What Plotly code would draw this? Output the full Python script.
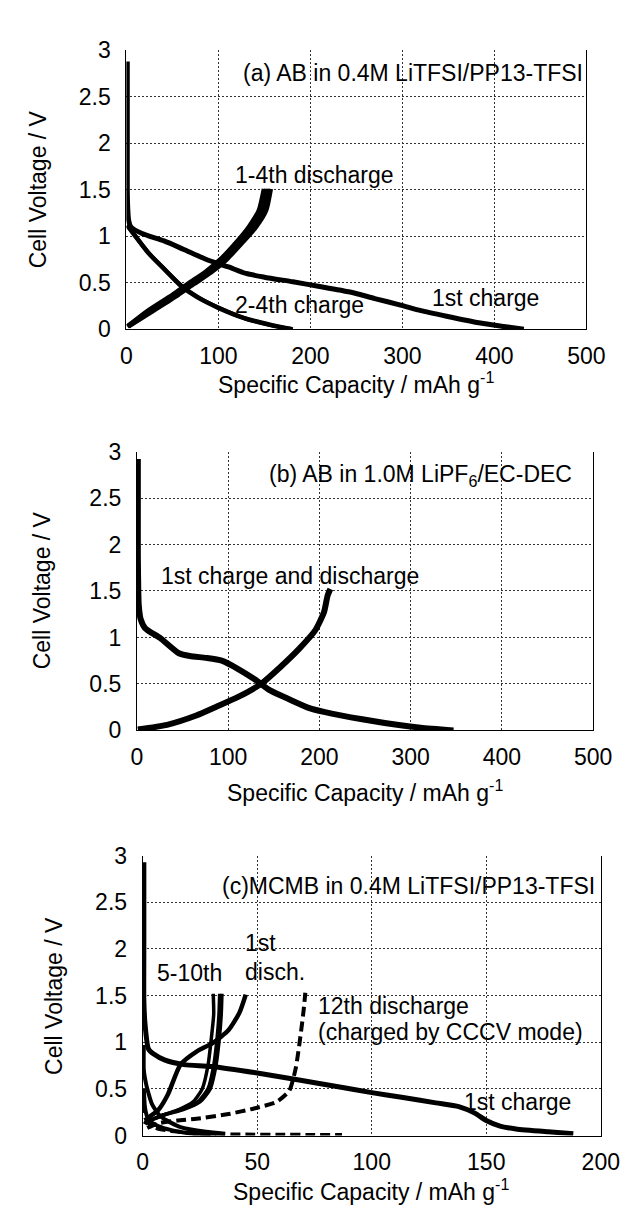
import plotly.graph_objects as go

W, H = 631, 1209
FONT = "Liberation Sans"
FS = 23

# ---------------- data ----------------
# Panel (a): AB in 0.4M LiTFSI/PP13-TFSI
a_ch1_x = [1, 1, 1, 1.5, 2.5, 5, 17, 41, 62, 87, 111, 130, 150, 181, 210, 243, 270, 298, 320, 348, 383, 410, 432]
a_ch1_v = [2.88, 2.0, 1.5, 1.3, 1.17, 1.1, 1.03, 0.95, 0.86, 0.75, 0.67, 0.6, 0.56, 0.51, 0.46, 0.4, 0.33, 0.26, 0.2, 0.14, 0.07, 0.03, 0.0]

a_ch24_x = [1, 24, 41, 59, 76, 100, 128, 156, 180]
a_ch24_v = [1.12, 0.82, 0.65, 0.47, 0.35, 0.23, 0.12, 0.05, 0.0]
a_ch24b_x = [2, 26, 43, 61, 79, 103, 131, 158, 181]
a_ch24b_v = [1.1, 0.8, 0.63, 0.46, 0.34, 0.22, 0.11, 0.04, 0.0]

a_dis_v = [0.03, 0.19, 0.37, 0.49, 0.61, 0.75, 0.93, 1.1, 1.28, 1.51]
a_dis1_x = [1, 22, 50, 67, 85, 102, 119, 133, 144, 149.5]
a_dis2_x = [1.5, 24, 52, 69.5, 87.5, 104.5, 121.5, 136, 147, 152]
a_dis3_x = [2, 26, 54.5, 72, 90, 107, 124, 138.5, 149.5, 154.5]
a_dis4_x = [2.5, 28, 56.5, 74, 92, 109, 126, 141, 152, 157]

# Panel (b): AB in 1.0M LiPF6/EC-DEC
b_ch_x = [1, 1, 1, 1.5, 2, 4, 9, 26, 46, 58, 76, 93, 111, 129, 146, 168, 189, 205, 247, 289, 311, 347]
b_ch_v = [2.92, 2.3, 1.87, 1.5, 1.35, 1.2, 1.1, 0.99, 0.83, 0.8, 0.78, 0.75, 0.66, 0.55, 0.43, 0.33, 0.24, 0.2, 0.12, 0.055, 0.03, 0.0]
b_dis_x = [1, 33, 65, 86, 111, 136, 157, 178, 195, 205, 209, 212]
b_dis_v = [0.01, 0.06, 0.16, 0.25, 0.36, 0.5, 0.68, 0.88, 1.07, 1.27, 1.45, 1.52]

# Panel (c): MCMB in 0.4M LiTFSI/PP13-TFSI
c_ch1_x = [0.5, 0.5, 0.5, 1, 2.5, 5, 9.5, 18, 30, 50, 67, 86, 100, 113, 128, 138, 145, 150, 156, 163, 177, 188]
c_ch1_v = [2.93, 2.0, 1.45, 1.2, 0.93, 0.87, 0.81, 0.76, 0.74, 0.67, 0.6, 0.52, 0.46, 0.41, 0.35, 0.31, 0.24, 0.16, 0.1, 0.07, 0.04, 0.02]

c_dis1_x = [1, 3, 6.7, 11, 16.5, 23.5, 30.5, 37.5, 42.3, 45]
c_dis1_v = [0.12, 0.2, 0.27, 0.44, 0.76, 0.9, 0.99, 1.13, 1.32, 1.51]

c_dis_v = [0.15, 0.22, 0.28, 0.36, 0.5, 0.75, 1.05, 1.3, 1.52]
c_disA_x = [2, 9, 16, 22, 26, 28.5, 30, 31, 30.8]
c_disB_x = [2, 9, 17, 24, 28.5, 31, 32.5, 33.3, 33.6]
c_disC_x = [2, 9.5, 18, 25, 29.5, 32, 33.5, 34.3, 34.6]

c_dis12_x = [2, 6.7, 15, 23.5, 37.5, 48.6, 58.4, 64, 66.8, 68.9, 70.3, 71]
c_dis12_v = [0.08, 0.13, 0.16, 0.18, 0.23, 0.29, 0.36, 0.48, 0.72, 1.07, 1.35, 1.53]

c_chA_x = [0.5, 0.5, 1.5, 2, 4, 8, 16.5, 27.7, 36]
c_chA_v = [0.97, 0.7, 0.55, 0.5, 0.34, 0.2, 0.09, 0.04, 0.02]
c_chB_x = [0.5, 1, 2, 4, 8, 14, 22, 32]
c_chB_v = [0.5, 0.3, 0.2, 0.14, 0.09, 0.05, 0.02, 0.01]
c_ch12_x = [0.5, 1, 3, 6, 12, 20, 30, 45, 60, 75, 87]
c_ch12_v = [0.35, 0.2, 0.12, 0.08, 0.05, 0.03, 0.015, 0.01, 0.008, 0.006, 0.005]

x_ticks_ab = [0, 100, 200, 300, 400, 500]
x_ticks_c = [0, 50, 100, 150, 200]
y_ticks = [0, 0.5, 1, 1.5, 2, 2.5, 3]

# ---------------- figure ----------------
fig = go.Figure()

def line(x, y, ax, width=5, dash="solid"):
    fig.add_trace(go.Scatter(
        x=x, y=y, mode="lines", xaxis=ax[0], yaxis=ax[1],
        line=dict(color="black", width=width, dash=dash, shape="spline", smoothing=0.6),
        showlegend=False, hoverinfo="skip"))

A = ("x", "y"); B = ("x2", "y2"); C = ("x3", "y3")
line(a_ch1_x, a_ch1_v, A, 5)
line(a_ch24_x, a_ch24_v, A, 4.5)
line(a_ch24b_x, a_ch24b_v, A, 4)
for xs in (a_dis1_x, a_dis2_x, a_dis3_x, a_dis4_x):
    line(xs, a_dis_v, A, 4.5)

line(b_ch_x, b_ch_v, B, 6)
line(b_dis_x, b_dis_v, B, 6)

line(c_ch1_x, c_ch1_v, C, 5)
line(c_dis1_x, c_dis1_v, C, 4.5)
for xs in (c_disA_x, c_disB_x, c_disC_x):
    line(xs, c_dis_v, C, 3.5)
line(c_chA_x, c_chA_v, C, 4)
line(c_chB_x, c_chB_v, C, 4)
line(c_ch12_x, c_ch12_v, C, 4, dash="10px,5px")
line(c_dis12_x, c_dis12_v, C, 4, dash="10px,5px")

def px_x(p): return p / W
def px_y(p): return (H - p) / H

def xax(x0, x1, rng, ticks, anchor):
    return dict(domain=[px_x(x0), px_x(x1)], range=rng, tickvals=ticks,
                showgrid=True, gridcolor="#333", griddash="2px,2px", gridwidth=1,
                zeroline=False, showline=True, linecolor="black", linewidth=1, mirror=False,
                ticks="", ticklabelstandoff=6, anchor=anchor,
                tickfont=dict(family=FONT, size=FS, color="black"))

def yax(y0, y1, anchor):
    return dict(domain=[px_y(y1), px_y(y0)], range=[0, 3], tickvals=y_ticks,
                showgrid=True, gridcolor="#333", griddash="2px,2px", gridwidth=1,
                zeroline=False, showline=True, linecolor="black", linewidth=1, mirror=True,
                ticks="", ticklabelstandoff=10, anchor=anchor,
                tickfont=dict(family=FONT, size=FS, color="black"))

fig.update_layout(
    width=W, height=H, margin=dict(l=0, r=0, t=0, b=0),
    paper_bgcolor="white", plot_bgcolor="white",
    xaxis=xax(117, 596, [0, 500], x_ticks_ab, "y"),
    yaxis=yax(30, 315, "x"),
    xaxis2=xax(128, 603, [0, 500], x_ticks_ab, "y2"),
    yaxis2=yax(440, 725, "x2"),
    xaxis3=xax(134, 611, [0, 200], x_ticks_c, "y3"),
    yaxis3=yax(853, 1139, "x3"),
)

tf = dict(family=FONT, size=FS, color="black")
ann = []
def note(text, x, y, xr, yr, xanchor="left"):
    ann.append(dict(text=text, x=x, y=y, xref=xr, yref=yr, xanchor=xanchor,
                    yanchor="middle", showarrow=False, font=tf))

note("(a) AB in 0.4M LiTFSI/PP13-TFSI", 498, 2.76, "x", "y", "right")
note("1-4th discharge", 116, 1.66, "x", "y")
note("2-4th charge", 116, 0.26, "x", "y")
note("1st charge", 330, 0.34, "x", "y")

note("(b) AB in 1.0M LiPF<sub>6</sub>/EC-DEC", 479, 2.74, "x2", "y2", "right")
note("1st charge and discharge", 24, 1.66, "x2", "y2")

note("(c)MCMB in 0.4M LiTFSI/PP13-TFSI", 198.5, 2.67, "x3", "y3", "right")
note("1st", 43.6, 2.06, "x3", "y3")
note("disch.", 43.6, 1.75, "x3", "y3")
note("5-10th", 5.5, 1.74, "x3", "y3")
note("12th discharge", 75.5, 1.39, "x3", "y3")
note("(charged by CCCV mode)", 75.5, 1.11, "x3", "y3")
note("1st charge", 139.6, 0.36, "x3", "y3")

xt = "Specific Capacity / mAh g<sup>-1</sup>"
yt = "Cell Voltage / V"
for cx, cy in [(356, 370), (365, 787), (372, 1195)]:
    ann.append(dict(text=xt, x=px_x(cx), y=px_y(cy), xref="paper", yref="paper",
                    xanchor="center", yanchor="middle", showarrow=False, font=tf))
for cx, cy in [(25, 172), (30, 582), (41, 996)]:
    ann.append(dict(text=yt, x=px_x(cx), y=px_y(cy), xref="paper", yref="paper",
                    xanchor="center", yanchor="middle", showarrow=False, font=tf, textangle=-90))
fig.update_layout(annotations=ann)

fig.write_html("out.html")
